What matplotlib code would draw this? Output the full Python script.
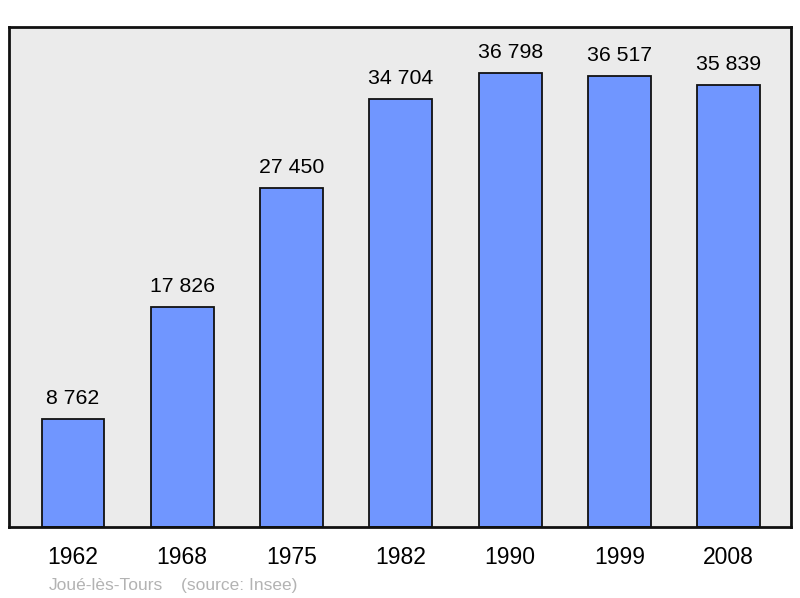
import matplotlib
matplotlib.use('Agg')
import matplotlib.pyplot as plt

annees = ['1962', '1968', '1975', '1982', '1990', '1999', '2008']
population = [8762, 17826, 27450, 34704, 36798, 36517, 35839]
etiquettes = ['8 762', '17 826', '27 450', '34 704', '36 798', '36 517', '35 839']

plt.rcParams['font.family'] = ['Liberation Sans', 'DejaVu Sans']

fig = plt.figure(figsize=(8, 5.98), dpi=100)
ax = fig.add_axes([0.01125, 0.1187, 0.9775, 0.836])
ax.set_facecolor('#ebebeb')

x = list(range(len(annees)))
ax.bar(x, population, width=0.575, color='#7096ff', edgecolor='#111111',
       linewidth=1.3, zorder=2)

for xi, v, lab in zip(x, population, etiquettes):
    ax.annotate(lab, (xi, v), xytext=(0, 8), textcoords='offset points',
                ha='center', va='bottom', fontsize=15.3)

ax.set_xlim(-0.585, 6.57)
ax.set_ylim(0, 40500)
ax.set_xticks(x)
ax.set_xticklabels(annees, fontsize=16.5)
ax.tick_params(axis='x', length=0, pad=14)
ax.set_yticks([])
for s in ax.spines.values():
    s.set_linewidth(2)
    s.set_color('#111111')

fig.text(0.061, 0.014, 'Joué-lès-Tours', color='#b3b3b3', fontsize=12.5)
fig.text(0.226, 0.014, '(source: Insee)', color='#b3b3b3', fontsize=12.5)

fig.savefig('out.png', dpi=100)
